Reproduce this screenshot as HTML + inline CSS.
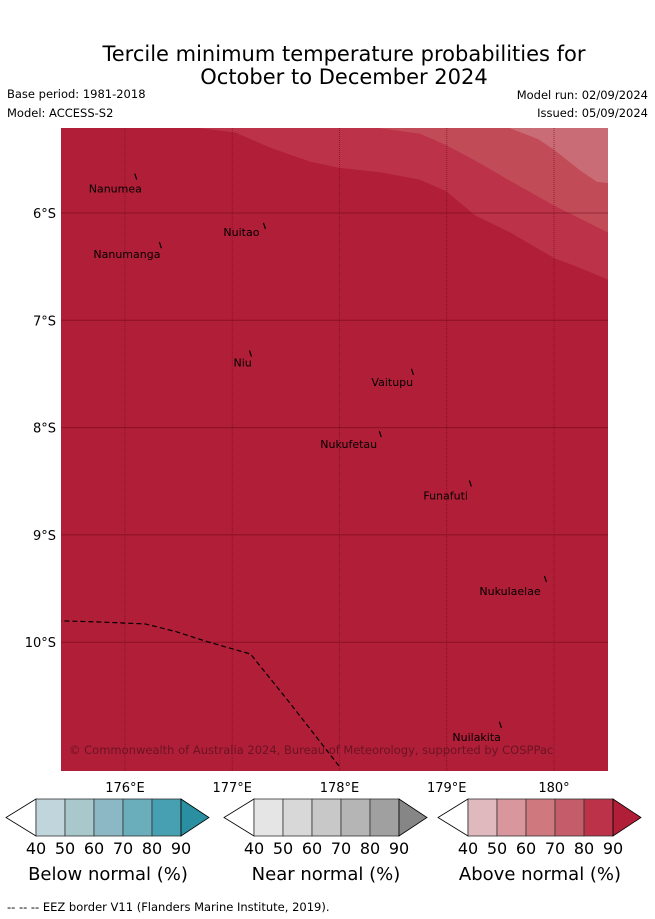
<!DOCTYPE html>
<html><head><meta charset="utf-8"><style>
body{margin:0;background:#fff;}
svg{display:block;font-family:"DejaVu Sans","Liberation Sans",sans-serif;}
</style></head><body>
<svg width="655" height="919" viewBox="0 0 655 919">
<text x="344" y="61" font-size="21" text-anchor="middle">Tercile minimum temperature probabilities for</text>
<text x="344" y="84" font-size="21" text-anchor="middle">October to December 2024</text>
<text x="7" y="98" font-size="11.5">Base period: 1981-2018</text>
<text x="7" y="117" font-size="11.5">Model: ACCESS-S2</text>
<text x="648" y="99" font-size="11.5" text-anchor="end">Model run: 02/09/2024</text>
<text x="648" y="117" font-size="11.5" text-anchor="end">Issued: 05/09/2024</text>
<defs><clipPath id="mc"><rect x="61" y="128" width="547" height="643"/></clipPath></defs>
<g id="map" clip-path="url(#mc)">
<rect x="61" y="128" width="547" height="643" fill="#b11e37"/>
<g id="bands"></g>
<g id="grid"></g>
<polyline id="eez" fill="none" stroke="#000" stroke-width="1.2" stroke-dasharray="5,3"/>
<g id="islands"></g>
<text x="69" y="754" font-size="11.5" fill="#6a1424">© Commonwealth of Australia 2024, Bureau of Meteorology, supported by COSPPac</text>
</g>
<g id="ticks"></g>
<g id="colorbars"></g>
<text x="7" y="911" font-size="11.5">--  --  -- EEZ border V11 (Flanders Marine Institute, 2019).</text>
</svg>
<script>
const lonTicks=[176,177,178,179,180];
const lonLabels=["176°E","177°E","178°E","179°E","180°"];
const latTicks=[-6,-7,-8,-9,-10];
const latLabels=["6°S","7°S","8°S","9°S","10°S"];
const bandLevels=[80,70,60];
const bandColors=["#bc3249","#c14c57","#ca6c75"];
const boundary80Lon=[176.70,177.03,177.35,177.72,178.0,178.38,178.75,179.0,179.26,179.59,180.0,180.24,180.5];
const boundary80Lat=[-5.21,-5.25,-5.39,-5.52,-5.58,-5.62,-5.69,-5.80,-6.02,-6.18,-6.42,-6.51,-6.62];
const boundary70Lon=[178.38,178.75,179.0,179.3,179.59,180.0,180.24,180.5];
const boundary70Lat=[-5.21,-5.26,-5.37,-5.53,-5.70,-5.93,-6.05,-6.18];
const boundary60Lon=[179.59,179.85,180.0,180.24,180.4,180.5];
const boundary60Lat=[-5.21,-5.31,-5.41,-5.60,-5.71,-5.72];
const eezLon=[175.36,175.72,176.19,176.47,176.75,177.17,177.54,178.0];
const eezLat=[-9.80,-9.81,-9.83,-9.90,-9.99,-10.11,-10.57,-11.16];
const islandNames=["Nanumea","Nuitao","Nanumanga","Niu","Vaitupu","Nukufetau","Funafuti","Nukulaelae","Nuilakita"];
const islandLon=[176.10,177.30,176.33,177.17,178.68,178.38,179.22,179.92,179.50];
const islandLat=[-5.66,-6.12,-6.30,-7.31,-7.48,-8.06,-8.52,-9.41,-10.77];
const labelDx=[-47,-41,-67,-17,-41,-60,-47,-66,-48];
const labelDy=[16,10,13,13,14,14,16,16,16];
const cbTicks=["40","50","60","70","80","90"];
const cbTitles=["Below normal (%)","Near normal (%)","Above normal (%)"];
const cbColors=[["#c0d5dc","#a8c8cc","#8bb8c4","#6aaebb","#47a0b1","#2a8fa1"],
["#e5e5e5","#d8d8d8","#c8c8c8","#b5b5b5","#a0a0a0","#868686"],
["#e0b9bf","#d9979d","#cf797f","#c55c69","#bc3248","#b01e38"]];

const NS="http://www.w3.org/2000/svg";
const x=lon=>125+(lon-176)*107.25;
const y=lat=>213+(-6-lat)*107.3;
function el(t,a,p){const e=document.createElementNS(NS,t);for(const k in a)e.setAttribute(k,a[k]);p.appendChild(e);return e;}
const bands=document.getElementById('bands');
const bLon=[boundary80Lon,boundary70Lon,boundary60Lon],bLat=[boundary80Lat,boundary70Lat,boundary60Lat];
bLon.forEach((lons,i)=>{
 let pts=lons.map((l,j)=>x(l)+","+y(bLat[i][j]));
 pts.push(x(181)+","+y(bLat[i][bLat[i].length-1]),x(181)+","+y(-5),x(lons[0])+","+y(-5));
 const p=el('polygon',{points:pts.join(" "),fill:bandColors[i]},bands);
 
 
});
const grid=document.getElementById('grid'),ticks=document.getElementById('ticks');
lonTicks.forEach((l,i)=>{
 const g=el('line',{x1:x(l),x2:x(l),y1:128,y2:771,stroke:"#6a0a1c","stroke-opacity":0.6,"stroke-width":1,"stroke-dasharray":"1,1"},grid);
 
 
 const t=el('text',{x:x(l),y:792,"font-size":13,"text-anchor":"middle"},ticks);t.textContent=lonLabels[i];
 
 
});
latTicks.forEach((l,i)=>{
 const g=el('line',{x1:61,x2:608,y1:y(l),y2:y(l),stroke:"#6a0a1c","stroke-opacity":0.55,"stroke-width":1},grid);
 
 
 const t=el('text',{x:56,y:y(l)+5,"font-size":13,"text-anchor":"end"},ticks);t.textContent=latLabels[i];
 
 
});
document.getElementById('eez').setAttribute('points',eezLon.map((l,j)=>x(l)+","+y(eezLat[j])).join(" "));
const isl=document.getElementById('islands');
islandNames.forEach((n,i)=>{
 const px=x(islandLon[i]),py=y(islandLat[i]);
 const m=el('line',{x1:px-1,y1:py-3,x2:px+1,y2:py+3,stroke:"#000","stroke-width":1.2},isl);
 
 
 const t=el('text',{x:px+labelDx[i],y:py+labelDy[i],"font-size":11},isl);t.textContent=n;
 
 
});
const cb=document.getElementById('colorbars');
const cbLeft=[36,254,468];
cbLeft.forEach((L,k)=>{
 const g=el('g',{},cb);
 
 
 const w=29,top=799,bot=836,mid=817.5;
 el('polygon',{points:`${L},${top} ${L-30},${mid} ${L},${bot}`,fill:"#fff",stroke:"#000","stroke-width":0.8},g);
 for(let i=0;i<5;i++){el('rect',{x:L+i*w,y:top,width:w,height:bot-top,fill:cbColors[k][i],stroke:"#333","stroke-width":0.8},g);}
 el('polygon',{points:`${L+5*w},${top} ${L+5*w+28},${mid} ${L+5*w},${bot}`,fill:cbColors[k][5],stroke:"#000","stroke-width":0.8},g);
 cbTicks.forEach((v,i)=>{const t=el('text',{x:L+i*w,y:854,"font-size":16,"text-anchor":"middle"},g);t.textContent=v;
  
  });
 const t=el('text',{x:L+72,y:880,"font-size":18,"text-anchor":"middle"},g);t.textContent=cbTitles[k];
 
 
});
</script>
</body></html>
